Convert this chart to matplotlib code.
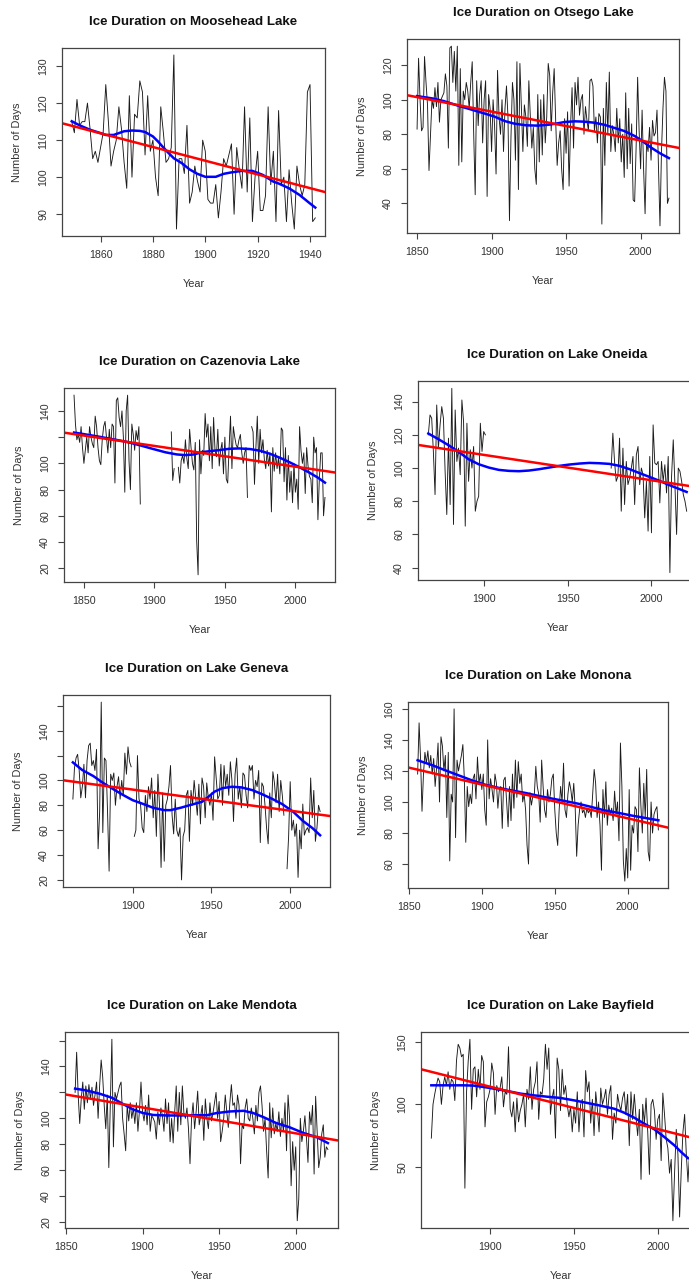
import numpy as np
import matplotlib.pyplot as plt

plt.rcParams['font.family'] = ['Liberation Sans', 'DejaVu Sans']

nan = np.nan

# ice duration in days, one value per winter (nan = no record)
moosehead_start = 1849
moosehead_days = [115,
    112, 121, 114, 115, 115, 120, 113, 105, 107, 104,
    108, 112, 125, 115, 103, 107, 110, 119, 113, 104,
    97, 122, 100, 117, 116, 126, 123, 106, 122, 107,
    110, 100, 95, 119, 112, 104, 105, 108, 133, 86,
    105, 105, 101, 114, 93, 96, 103, 99, 96, 110,
    107, 94, 93, 93, 98, 89, 96, 105, 103, 106,
    109, 90, 108, 102, 97, 119, 96, 116, 88, 100,
    107, 91, 91, 95, 119, 98, 107, 88, 118, 98,
    100, 88, 102, 93, 86, 103, 98, 95, 98, 123,
    125, 88, 89]

otsego_start = 1850
otsego_days = [
    83, 124, 100, 82, 84, 125, 110, 97, 59, 80,
    100, 95, 107, 96, 110, 87, 100, 102, 104, 115,
    108, 72, 130, 131, 110, 128, 105, 131, 62, 118,
    64, 105, 100, 110, 105, 95, 110, 122, 80, 45,
    111, 85, 103, 111, 75, 100, 111, 44, 103, 95,
    70, 100, 85, 57, 117, 90, 80, 100, 70, 95,
    108, 90, 30, 78, 110, 100, 65, 122, 48, 121,
    95, 70, 97, 90, 73, 111, 90, 72, 84, 60,
    51, 103, 64, 100, 68, 103, 75, 90, 121, 114,
    82, 104, 118, 88, 62, 75, 82, 60, 48, 89,
    69, 93, 50, 85, 107, 72, 110, 97, 113, 91,
    100, 103, 80, 96, 88, 82, 111, 112, 108, 82,
    90, 75, 92, 90, 28, 95, 62, 110, 80, 116,
    70, 85, 80, 70, 95, 75, 89, 64, 80, 55,
    104, 60, 95, 63, 86, 42, 41, 73, 113, 82,
    60, 94, 60, 34, 75, 70, 84, 65, 88, 79,
    81, 94, 60, 27, 70, 95, 113, 105, 40, 43]

cazenovia_start = 1843
cazenovia_days = [152, 130, 118, 122, 116, 128, 112,
    100, 110, 120, 108, 128, 120, 115, 112, 136, 128,
    112, 102, 99, 118, 128, 132, 120, 108, 126, 112,
    130, 128, 85, 148, 150, 135, 128, 140, 120, 78,
    140, 152, 102, 80, 130, 122, 110, 125, 118, 128,
    69] + [nan] * 19 + [
    nan, nan, 124, 87, 96, nan, nan, 97, 85, 102,
    106, 100, 118, 104, 96, 126, 112, 100, 95, 116,
    41, 15, 118, 92, 110, 106, 138, 120, 130, 102,
    128, 96, 135, 110, 105, 126, 98, 110, 116, 92,
    120, 88, 85, 112, 136, 96, 128, 120, 114, 112,
    118, 122, 108, 100, 108, 112, 74, nan, nan, 128,
    124, 84, 112, 136, 100, 126, 108, 118, 103, 96,
    110, 98, 108, 63, 112, 94, 108, 96, 104, 92,
    127, 125, 86, 112, 72, 106, 78, 94, 70, 100,
    78, 88, 65, 128, 110, 100, 108, 77, 112, 98,
    90, 88, 70, 120, 108, 112, 57, 88, 108, 108,
    60, 74]

oneida_start = 1867
oneida_days = [120, 132, 130,
    110, 84, 138, 112, 126, 137, 130, 98, 72, 118,
    78, 148, 66, 135, 104, 112, 96, 141, 128, 65,
    127, 92, 111, 100, 113, 74, 80, 83, 127, 110,
    122, 120] + [nan] * 74 + [100, 121, 104, 92,
    95, 118, 74, 112, 78, 104, 90, 94, 100, 107,
    78, 108, 113, 90, 100, 96, 70, 92, 62, 107,
    61, 126, 103, 102, 104, 79, 104, 92, 102, 85,
    107, 37, 95, 117, 90, 60, 100, 98, 92, 84,
    80, 74]

geneva_start = 1862
geneva_days = [85, 110, 118, 121, 108, 86, 95, 113,
    86, 116, 128, 130, 112, 116, 108, 125, 45, 75,
    163, 58, 118, 116, 75, 27, 105, 100, 106, 80,
    95, 103, 85, 100, 88, 122, 105, 127, 115, 111,
    nan, 55, 60, 120, 85, 80, 62, 58, 88, 75,
    95, 85, 102, 70, 92, 55, 105, 80, 30, 90,
    35, 80, 85, 95, 112, 72, 57, 85, 60, 55,
    62, 20, 55, 60, 88, 92, 51, 92, 80, 100,
    86, 72, 97, 65, 102, 95, 70, 98, 86, 80,
    90, 68, 119, 102, 85, 88, 113, 80, 112, 95,
    105, 88, 115, 100, 67, 105, 118, 85, 95, 78,
    106, 104, 88, 78, 112, 108, 112, 85, 100, 95,
    108, 50, 98, 95, 80, 62, 49, 90, 70, 107,
    98, 82, 105, 75, 100, 88, 72, nan, 29, 55,
    99, 60, 68, 55, 65, 22, 60, 45, 81, 56,
    60, 62, 58, 102, 70, 92, 51, 62, 80, 75]

monona_start = 1856
monona_days = [118, 151, 128, 94,
    118, 132, 125, 133, 122, 130, 118, 128, 110, 122,
    138, 100, 142, 136, 120, 130, 90, 132, 62, 105,
    100, 160, 77, 127, 120, 125, 130, 137, 115, 74,
    110, 97, 105, 99, 115, 118, 102, 129, 112, 118,
    108, 118, 95, 85, 140, 102, 115, 108, 100, 118,
    112, 96, 108, 110, 83, 114, 116, 100, 84, 110,
    88, 118, 96, 127, 103, 126, 112, 118, 100, 105,
    95, 72, 60, 106, 98, 104, 105, 123, 110, 105,
    87, 127, 110, 95, 90, 108, 100, 105, 115, 118,
    95, 80, 72, 95, 110, 100, 125, 95, 90, 105,
    113, 108, 100, 112, 96, 65, 85, 95, 100, 93,
    95, 90, 96, 93, 95, 90, 105, 121, 112, 90,
    100, 85, 56, 108, 90, 113, 85, 98, 92, 96,
    88, 107, 92, 100, 75, 138, 110, 62, 49, 70,
    51, 108, 56, 85, 80, 97, 95, 68, 122, 98,
    80, 112, 90, 121, 68, 62, 100, 80, 92, 95,
    97, 82]

mendota_start = 1856
mendota_days = [120, 151, 118, 96,
    115, 128, 107, 125, 112, 126, 115, 124, 110, 118,
    128, 100, 125, 145, 132, 110, 92, 118, 62, 112,
    161, 78, 120, 115, 120, 125, 128, 100, 88, 75,
    110, 98, 112, 100, 108, 96, 112, 90, 106, 128,
    105, 98, 110, 95, 118, 90, 102, 100, 97, 84,
    105, 95, 108, 102, 90, 115, 96, 112, 82, 100,
    81, 105, 125, 90, 120, 95, 125, 104, 100, 108,
    92, 65, 100, 112, 92, 105, 121, 95, 102, 110,
    83, 115, 100, 92, 112, 98, 104, 112, 120, 100,
    113, 82, 90, 100, 118, 105, 93, 112, 126, 110,
    112, 100, 118, 110, 65, 95, 92, 108, 115, 100,
    98, 108, 100, 88, 110, 98, 120, 125, 110, 90,
    100, 75, 54, 112, 85, 108, 88, 96, 90, 105,
    86, 100, 90, 112, 75, 118, 100, 48, 82, 60,
    78, 21, 38, 100, 82, 90, 102, 85, 66, 105,
    95, 110, 57, 117, 90, 62, 70, 88, 95, 70,
    78, 76]

bayfield_start = 1865
bayfield_days = [73, 100, 108, 115, 121,
    118, 100, 115, 122, 115, 126, 112, 120, 118, 103,
    135, 148, 145, 138, 140, 33, 110, 135, 152, 96,
    128, 130, 106, 128, 112, 139, 134, 82, 102, 106,
    112, 133, 125, 92, 115, 110, 113, 122, 98, 110,
    108, 146, 96, 90, 102, 78, 105, 86, 95, 100,
    108, 82, 112, 104, 130, 96, 112, 118, 134, 88,
    110, 108, 120, 148, 128, 145, 92, 105, 112, 73,
    137, 128, 95, 128, 108, 115, 100, 90, 98, 78,
    96, 85, 110, 78, 100, 104, 74, 127, 110, 118,
    85, 104, 75, 110, 96, 78, 113, 100, 105, 112,
    92, 108, 115, 72, 93, 85, 108, 100, 95, 105,
    110, 92, 108, 67, 110, 88, 108, 90, 75, 96,
    40, 100, 85, 105, 78, 44, 100, 104, 95, 72,
    88, 92, 55, 109, 92, 72, 65, 45, 56, 7,
    45, 80, 60, 10, 48, 78, 92, 60, 38, 63]

# smoothed trend (blue curve)
moosehead_smooth_years = [1849, 1852, 1856, 1860, 1862, 1865, 1869, 1872, 1875, 1877, 1880,
                          1882, 1884, 1886, 1888, 1891, 1894, 1897, 1900, 1904, 1907, 1910,
                          1914, 1918, 1922, 1926, 1928, 1932, 1936, 1940, 1942]
moosehead_smooth_days = [115.1, 114.0, 112.8, 111.9, 111.4, 111.4, 112.4, 112.6, 112.5, 112.2,
                         111.0, 109.6, 108.0, 106.5, 105.1, 103.8, 102.1, 100.9, 100.1, 100.1,
                         100.9, 101.3, 101.7, 101.7, 100.6, 98.8, 98.3, 97.0, 95.2, 92.9, 91.8]

otsego_smooth_years = [1850, 1860, 1868, 1877, 1886, 1895, 1902, 1909, 1915, 1923, 1931, 1939,
                       1944, 1949, 1956, 1962, 1969, 1976, 1982, 1989, 1996, 2001, 2007, 2013,
                       2019]
otsego_smooth_days = [102.1, 100.8, 99.2, 96.7, 94.4, 92.1, 90.2, 87.6, 86.2, 85.2, 85.0, 85.6,
                      86.3, 87.1, 87.5, 87.3, 86.7, 85.4, 83.8, 81.9, 79.0, 76.2, 72.3, 69.0,
                      66.2]

cazenovia_smooth_years = [1843, 1850, 1861, 1870, 1880, 1889, 1899, 1908, 1916, 1922, 1928,
                          1934, 1940, 1946, 1953, 1960, 1968, 1975, 1982, 1989, 1996, 2003,
                          2010, 2016, 2021]
cazenovia_smooth_days = [123.5, 122.3, 120.3, 118.5, 116.5, 114.0, 111.0, 108.4, 106.8, 106.3,
                         106.8, 108.6, 109.4, 110.1, 111.1, 111.4, 110.9, 109.6, 107.3, 104.3,
                         100.8, 97.0, 92.9, 89.1, 85.3]

oneida_smooth_years = [1867, 1873, 1879, 1885, 1891, 1897, 1903, 1909, 1915, 1921, 1927, 1933,
                       1939, 1945, 1951, 1957, 1963, 1969, 1975, 1981, 1987, 1993, 1999, 2005,
                       2011, 2017, 2021]
oneida_smooth_days = [120.8, 117.4, 113.8, 109.8, 105.3, 102.3, 100.3, 98.9, 98.3, 98.1, 98.5,
                      99.3, 100.3, 101.3, 102.1, 102.7, 103.1, 102.9, 102.5, 101.3, 99.3, 96.9,
                      94.6, 92.2, 89.6, 87.2, 85.6]

geneva_smooth_years = [1862, 1868, 1875, 1881, 1888, 1894, 1900, 1907, 1913, 1920, 1924, 1931,
                       1937, 1944, 1948, 1952, 1957, 1963, 1969, 1976, 1982, 1989, 1995, 2002,
                       2008, 2014, 2019]
geneva_smooth_days = [114.5, 108.3, 103.5, 98.1, 92.7, 88.2, 84.1, 80.9, 78.0, 76.1, 76.1, 78.2,
                      80.4, 82.8, 86.8, 91.0, 93.8, 94.9, 94.4, 92.2, 89.0, 84.9, 80.9, 74.7,
                      67.5, 61.8, 55.9]

monona_smooth_years = [1856, 1866, 1875, 1884, 1893, 1902, 1911, 1920, 1930, 1939, 1948, 1957,
                       1966, 1975, 1984, 1994, 2003, 2012, 2021]
monona_smooth_days = [126.9, 123.7, 120.4, 117.2, 114.0, 111.2, 109.2, 107.5, 105.8, 103.9,
                      102.2, 100.6, 98.9, 96.8, 94.6, 92.9, 91.2, 89.7, 88.2]

mendota_smooth_years = [1856, 1863, 1872, 1880, 1887, 1894, 1900, 1907, 1916, 1924, 1933, 1942,
                        1948, 1957, 1966, 1972, 1979, 1987, 1996, 2005, 2014, 2021]
mendota_smooth_days = [122.9, 121.6, 119.0, 115.9, 111.2, 106.8, 104.2, 102.6, 102.2, 102.2,
                       102.4, 102.4, 104.0, 105.3, 105.8, 104.2, 100.9, 96.5, 93.1, 88.7, 85.3,
                       80.9]

bayfield_smooth_years = [1865, 1874, 1884, 1890, 1896, 1902, 1910, 1918, 1926, 1934, 1942, 1950,
                         1958, 1966, 1974, 1980, 1986, 1992, 1998, 2004, 2010, 2014, 2018]
bayfield_smooth_days = [115.2, 115.2, 115.2, 115.0, 113.9, 112.6, 110.7, 108.6, 107.2, 106.1,
                        105.1, 103.2, 101.1, 98.9, 96.5, 93.3, 89.3, 84.5, 80.0, 73.8, 67.1,
                        61.8, 57.0]

# panel layout: box = (left, top, right, bottom) in pixels of the 689x1283 image
panels = [
    dict(title='Ice Duration on Moosehead Lake', start=moosehead_start, days=moosehead_days,
         sx=moosehead_smooth_years, sy=moosehead_smooth_days,
         box=(62, 48, 325, 236), xt=[1860, 1880, 1900, 1920, 1940],
         yt=[90, 100, 110, 120, 130], yl=['90', '100', '110', '120', '130']),
    dict(title='Ice Duration on Otsego Lake', start=otsego_start, days=otsego_days,
         sx=otsego_smooth_years, sy=otsego_smooth_days,
         box=(407, 39, 679, 233), xt=[1850, 1900, 1950, 2000],
         yt=[40, 60, 80, 100, 120], yl=['40', '60', '80', '100', '120']),
    dict(title='Ice Duration on Cazenovia Lake', start=cazenovia_start, days=cazenovia_days,
         sx=cazenovia_smooth_years, sy=cazenovia_smooth_days,
         box=(64, 388, 335, 582), xt=[1850, 1900, 1950, 2000],
         yt=[20, 40, 60, 80, 100, 120, 140], yl=['20', '40', '60', '80', '100', '', '140']),
    dict(title='Ice Duration on Lake Oneida', start=oneida_start, days=oneida_days,
         sx=oneida_smooth_years, sy=oneida_smooth_days,
         box=(418, 381, 697, 580), xt=[1900, 1950, 2000],
         yt=[40, 60, 80, 100, 120, 140], yl=['40', '60', '80', '100', '120', '140']),
    dict(title='Ice Duration on Lake Geneva', start=geneva_start, days=geneva_days,
         sx=geneva_smooth_years, sy=geneva_smooth_days,
         box=(63, 695, 330, 887), xt=[1900, 1950, 2000],
         yt=[20, 40, 60, 80, 100, 120, 140, 160], yl=['20', '40', '60', '80', '100', '', '140', '']),
    dict(title='Ice Duration on Lake Monona', start=monona_start, days=monona_days,
         sx=monona_smooth_years, sy=monona_smooth_days,
         box=(408, 702, 668, 888), xt=[1850, 1900, 1950, 2000],
         yt=[60, 80, 100, 120, 140, 160], yl=['60', '80', '100', '120', '140', '160']),
    dict(title='Ice Duration on Lake Mendota', start=mendota_start, days=mendota_days,
         sx=mendota_smooth_years, sy=mendota_smooth_days,
         box=(65, 1032, 338, 1228), xt=[1850, 1900, 1950, 2000],
         yt=[20, 40, 60, 80, 100, 120, 140, 160], yl=['20', '40', '60', '80', '100', '', '140', '']),
    dict(title='Ice Duration on Lake Bayfield', start=bayfield_start, days=bayfield_days,
         sx=bayfield_smooth_years, sy=bayfield_smooth_days,
         box=(421, 1032, 700, 1228), xt=[1900, 1950, 2000],
         yt=[50, 100, 150], yl=['50', '100', '150']),
]

W, H = 689, 1283
fig = plt.figure(figsize=(W / 100, H / 100), dpi=100)

for p in panels:
    l, t, r, b = p['box']
    ax = fig.add_axes([l / W, 1 - b / H, (r - l) / W, (b - t) / H])
    days = np.array(p['days'], dtype=float)
    years = p['start'] + np.arange(len(days))
    ok = ~np.isnan(days)

    ax.plot(years, days, color='#1a1a1a', lw=0.65)
    ax.plot(p['sx'], p['sy'], color='#0000ff', lw=1.8)
    # least-squares trend line across the whole panel
    slope, icpt = np.polyfit(years[ok], days[ok], 1)
    ax.axline((1900, icpt + slope * 1900), slope=slope, color='#ff0000', lw=1.8)

    ax.set_xticks(p['xt'])
    ax.set_yticks(p['yt'], p['yl'])
    x0, x1 = years[ok].min(), years[ok].max()
    y0, y1 = np.nanmin(days), np.nanmax(days)
    ax.set_xlim(x0 - 0.04 * (x1 - x0), x1 + 0.04 * (x1 - x0))
    ax.set_ylim(y0 - 0.04 * (y1 - y0), y1 + 0.04 * (y1 - y0))

    ax.tick_params(direction='out', length=4, width=0.8, color='#444444',
                   labelcolor='#333333', labelsize=7.7, pad=6)
    ax.tick_params(axis='y', labelrotation=90)
    for lab in ax.get_yticklabels():
        lab.set_va('center')
    for s in ax.spines.values():
        s.set_color('#444444')
        s.set_linewidth(0.9)

    hpx, wpx = b - t, r - l
    ax.text(0.5, 1 + 26 / hpx, p['title'], transform=ax.transAxes, ha='center',
            va='center', fontsize=9.6, fontweight='bold', color='#111111')
    ax.text(0.5, -48 / hpx, 'Year', transform=ax.transAxes, ha='center',
            va='center', fontsize=7.9, color='#333333')
    ax.text(-45 / wpx, 0.5, 'Number of Days', transform=ax.transAxes, ha='center',
            va='center', rotation=90, fontsize=7.9, color='#333333')

fig.savefig('out.png', dpi=100)
